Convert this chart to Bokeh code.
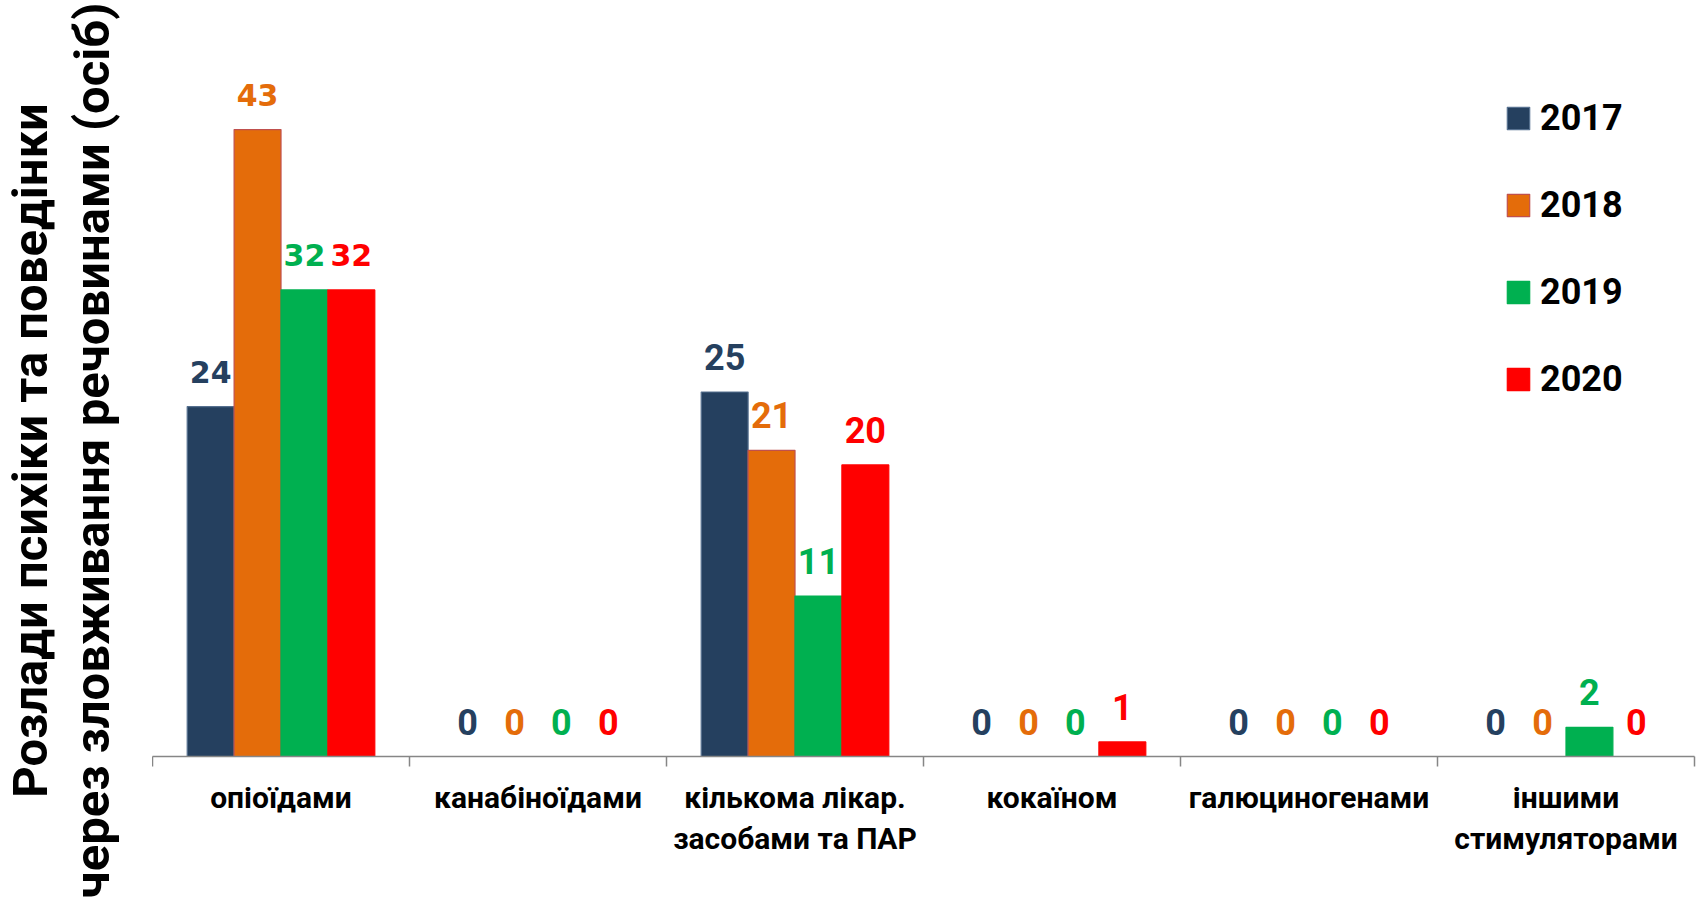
import math
from bokeh.plotting import figure
from bokeh.layouts import row
from bokeh.models import (ColumnDataSource, Range1d, FixedTicker, Legend, LegendItem)
from bokeh.core.properties import value
from bokeh.transform import dodge
from bokeh.embed import file_html
from bokeh.resources import INLINE

# ---- data ----
categories = ["опіоїдами", "канабіноїдами", "кількома лікар.\nзасобами та ПАР",
              "кокаїном", "галюциногенами", "іншими\nстимуляторами"]
years = ["2017", "2018", "2019", "2020"]
v2017 = [24, 0, 25, 0, 0, 0]
v2018 = [43, 0, 21, 0, 0, 0]
v2019 = [32, 0, 11, 0, 0, 2]
v2020 = [32, 0, 20, 1, 0, 0]
y_title_lines = ["Розлади психіки та поведінки", "через зловживання речовинами (осіб)"]

series = [v2017, v2018, v2019, v2020]
fills = ["#25405F", "#E46C0A", "#00B050", "#FF0000"]
lines = ["#56708F", "#C0504D", "#00B050", "#FF0000"]
offsets = [-0.2737, -0.0912, 0.0912, 0.2737]
bar_w = 0.1825

H = 899
LEFT = 152

# ---- left strip holding the vertical axis title ----
t = figure(width=LEFT, height=H, output_backend="svg", toolbar_location=None,
           x_range=Range1d(0, LEFT), y_range=Range1d(0, H),
           x_axis_type=None, y_axis_type=None,
           min_border_left=0, min_border_right=0, min_border_top=0, min_border_bottom=0)
t.frame_align = False
t.outline_line_color = None
t.grid.visible = False
tsrc = ColumnDataSource(dict(x=[30, 92], y=[H - 450, H - 450], s=y_title_lines))
t.text(x="x", y="y", text="s", source=tsrc, angle=math.pi / 2,
       text_align="center", text_baseline="middle",
       text_font=value("Roboto"), text_font_style="bold", text_font_size="49px",
       text_color="black")

# ---- main chart ----
p = figure(width=1700 - LEFT, height=H, output_backend="svg", toolbar_location=None,
           x_range=Range1d(0, len(categories)), y_range=Range1d(0, 51.85),
           min_border_left=0, min_border_right=6, min_border_top=0,
           min_border_bottom=143)
p.frame_align = False
p.outline_line_color = None
p.grid.visible = False
p.yaxis.visible = False
p.background_fill_color = "white"
p.border_fill_color = "white"

centers = [i + 0.5 for i in range(len(categories))]
ax = p.xaxis[0]
ax.ticker = FixedTicker(ticks=centers, minor_ticks=list(range(len(categories) + 1)))
ax.major_label_overrides = {c: lab for c, lab in zip(centers, categories)}
ax.major_tick_line_color = None
ax.major_tick_out = 0
ax.major_tick_in = 0
ax.minor_tick_line_color = "#868686"
ax.minor_tick_line_width = 1.5
ax.minor_tick_out = 10
ax.minor_tick_in = 0
ax.axis_line_color = "#868686"
ax.axis_line_width = 1.5
ax.major_label_text_font = "Roboto"
ax.major_label_text_font_style = "bold"
ax.major_label_text_font_size = "30px"
ax.major_label_text_color = "black"
ax.major_label_standoff = 13
ax.major_label_text_line_height = 1.18

items = []
for k, (yr, vals) in enumerate(zip(years, series)):
    src = ColumnDataSource(dict(
        x=centers, v=vals, t=[str(v) for v in vals],
        f=["DejaVu Sans" if i == 0 else "Roboto" for i in range(len(vals))],
        fs=["30px" if i == 0 else "36px" for i in range(len(vals))],
    ))
    r = p.vbar(x=dodge("x", offsets[k], range=p.x_range), top="v", width=bar_w,
               source=src, fill_color=fills[k], line_color=lines[k], line_width=1.2)
    p.text(x=dodge("x", offsets[k], range=p.x_range), y="v", text="t", source=src,
           text_font="f", text_font_size="fs", text_font_style="bold",
           text_color=fills[k], text_align="center", text_baseline="middle",
           y_offset=-35)
    items.append(LegendItem(label=yr, renderers=[r]))

leg = Legend(items=items, location=(1352, 356), orientation="vertical",
             glyph_width=28, glyph_height=28, label_standoff=8,
             spacing=45, padding=0, margin=0,
             label_text_font="Roboto", label_text_font_style="bold",
             label_text_font_size="36px", label_text_color="black",
             border_line_color=None, background_fill_alpha=0)
p.add_layout(leg, "center")

layout = row(t, p, spacing=0)
open("out.html", "w").write(file_html(layout, INLINE))
